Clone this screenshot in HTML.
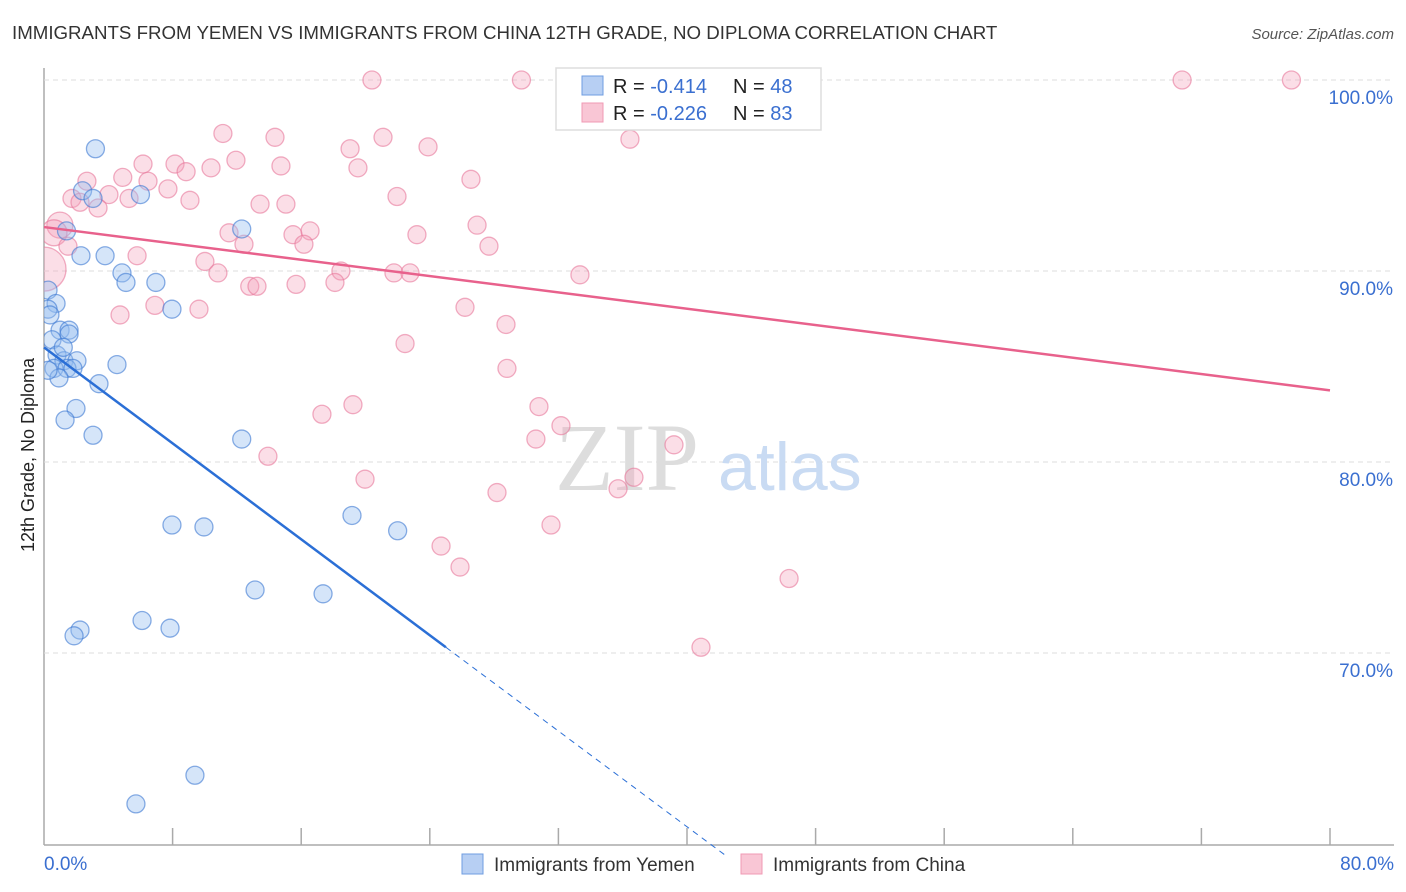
<!DOCTYPE html>
<html><head><meta charset="utf-8">
<style>
body{margin:0;background:#fff;font-family:"Liberation Sans",sans-serif;}
#wrap{position:relative;width:1406px;height:892px;overflow:hidden;}
</style></head>
<body>
<div id="wrap">
<svg id="svg" width="1406" height="892" xmlns="http://www.w3.org/2000/svg">
<defs><clipPath id="plotclip"><rect x="44" y="40" width="1362" height="805"/></clipPath></defs>
<text x="12" y="39" font-size="18.7" fill="#333">IMMIGRANTS FROM YEMEN VS IMMIGRANTS FROM CHINA 12TH GRADE, NO DIPLOMA CORRELATION CHART</text>
<text x="1394" y="39" font-size="15" fill="#555" text-anchor="end" font-style="italic">Source: ZipAtlas.com</text>
<text x="34" y="455" font-size="18" fill="#222" text-anchor="middle" transform="rotate(-90 34 455)">12th Grade, No Diploma</text>
<g id="grid"></g>
<text x="555" y="490" font-size="96" fill="#ddd" font-family="Liberation Serif,serif">ZIP</text>
<text x="718" y="490" font-size="68" fill="#c9dbf3">atlas</text>
<g id="pts" clip-path="url(#plotclip)"></g>
<g id="lines"></g>
<g>
<rect x="556" y="68" width="265" height="62" fill="#fff" stroke="#ddd" stroke-width="1.5"/>
<rect x="582" y="76" width="21" height="19" fill="#b7cff3" stroke="#6f9de0"/>
<text x="613" y="93" font-size="20" fill="#222">R = <tspan fill="#3a6fd0">-0.414</tspan></text>
<text x="733" y="93" font-size="20" fill="#222">N = <tspan fill="#3a6fd0">48</tspan></text>
<rect x="582" y="103" width="21" height="19" fill="#f9c6d5" stroke="#f09ab4"/>
<text x="613" y="120" font-size="20" fill="#222">R = <tspan fill="#3a6fd0">-0.226</tspan></text>
<text x="733" y="120" font-size="20" fill="#222">N = <tspan fill="#3a6fd0">83</tspan></text>
</g>
<g>
<rect x="462" y="854" width="21" height="20" fill="#b7cff3" stroke="#6f9de0"/>
<text x="494" y="871" font-size="19" fill="#333">Immigrants from Yemen</text>
<rect x="741" y="854" width="21" height="20" fill="#f9c6d5" stroke="#f09ab4"/>
<text x="773" y="871" font-size="19" fill="#333">Immigrants from China</text>
</g>
</svg>
</div>
<script>
const xTicks=[8,16,24,32,40,48,56,64,72,80];
const yTicks=[70,80,90,100];
const yTickLabels=["70.0%","80.0%","90.0%","100.0%"];
const yemenX=[3.2,2.4,6.0,3.05,1.4,12.3,2.3,3.8,4.85,5.1,6.96,0.25,0.75,0.25,0.37,7.96,1.0,1.56,1.56,0.5,0.81,1.24,2.05,0.62,1.43,1.8,0.93,4.54,3.42,1.99,1.31,3.05,12.3,19.16,22.0,7.96,9.95,13.13,17.36,6.1,7.84,2.24,1.87,9.39,5.72,34.34,0.25,1.2];
const yemenY=[96.4,94.2,94.0,93.8,92.1,92.2,90.8,90.8,89.9,89.4,89.4,89.0,88.3,88.0,87.7,88.0,86.9,86.9,86.7,86.4,85.6,85.3,85.3,84.9,84.9,84.9,84.4,85.1,84.1,82.8,82.2,81.4,81.2,77.2,76.4,76.7,76.6,73.3,73.1,71.7,71.3,71.2,70.9,63.6,62.1,99.5,84.8,86.0];
const chinaX=[20.4,29.7,32.97,70.8,77.6,11.13,14.37,21.09,23.89,36.45,19.04,6.16,8.15,10.39,11.94,14.74,19.53,8.84,4.9,6.47,2.67,7.71,26.56,4.04,5.29,1.74,2.24,3.36,9.08,13.44,15.05,21.96,0.99,0.62,0.0,11.51,12.44,15.49,16.55,16.17,23.2,26.94,27.68,1.49,5.79,10.01,10.82,18.47,21.77,22.77,33.34,12.8,13.25,15.68,18.1,6.9,9.64,26.19,4.73,28.74,22.46,28.8,17.29,19.22,30.79,30.6,32.16,39.19,13.93,19.97,28.18,35.71,36.7,31.54,24.7,25.88,46.35,40.87];
const chinaY=[100,100,100,100,100,97.2,97.0,97.0,96.5,96.9,96.4,95.6,95.6,95.4,95.8,95.5,95.4,95.2,94.9,94.7,94.7,94.3,94.8,94.0,93.8,93.8,93.6,93.3,93.7,93.5,93.5,93.9,92.4,92.0,90.1,92.0,91.4,91.9,92.1,91.4,91.9,92.4,91.3,91.3,90.8,90.5,89.9,90.0,89.9,89.9,89.8,89.2,89.2,89.3,89.4,88.2,88.0,88.1,87.7,87.2,86.2,84.9,82.5,83.0,82.9,81.2,81.9,80.9,80.3,79.1,78.4,78.6,79.2,76.7,75.6,74.5,73.9,70.3];
const chinaR=[9,9,9,9,9,9,9,9,9,9,9,9,9,9,9,9,9,9,9,9,9,9,9,9,9,9,9,9,9,9,9,9,13,13,22,9,9,9,9,9,9,9,9,9,9,9,9,9,9,9,9,9,9,9,9,9,9,9,9,9,9,9,9,9,9,9,9,9,9,9,9,9,9,9,9,9,9,9];
const yemenTrend=[0,86.0,25,70.3,42.4,59.4];
const chinaTrend=[0,92.3,80,83.75];
const X=v=>44+v*(1286/80);
const Y=v=>80+(100-v)*19.1;
const NS="http://www.w3.org/2000/svg";
function mk(tag,attrs,parent){const e=document.createElementNS(NS,tag);for(const k in attrs)e.setAttribute(k,attrs[k]);parent.appendChild(e);return e;}
const grid=document.getElementById('grid');
let ax=mk('line',{x1:44,y1:68,x2:44,y2:845,stroke:'#aaa','stroke-width':1.5},grid);


let bx=mk('line',{x1:44,y1:845,x2:1394,y2:845,stroke:'#aaa','stroke-width':1.5},grid);


xTicks.forEach(t=>{const l=mk('line',{x1:X(t),y1:828,x2:X(t),y2:845,stroke:'#aaa','stroke-width':1.5},grid);

});
yTicks.forEach((t,i)=>{const l=mk('line',{x1:44,y1:Y(t),x2:1394,y2:Y(t),stroke:'#ddd','stroke-dasharray':'5,4'},grid);


const tx=mk('text',{x:1393,y:Y(t)+24,'font-size':19,fill:'#3a6fd0','text-anchor':'end'},grid);tx.textContent=yTickLabels[i];

});
const x0=mk('text',{x:44,y:870,'font-size':19,fill:'#3a6fd0'},grid);x0.textContent="0.0%";


const x1=mk('text',{x:1394,y:870,'font-size':19,fill:'#3a6fd0','text-anchor':'end'},grid);x1.textContent="80.0%";


const pts=document.getElementById('pts');
chinaX.forEach((v,i)=>{const c=mk('circle',{cx:X(v),cy:Y(chinaY[i]),r:chinaR[i],fill:'rgba(244,160,185,0.35)',stroke:'rgba(232,120,155,0.6)','stroke-width':1.3},pts);

});
yemenX.forEach((v,i)=>{const c=mk('circle',{cx:X(v),cy:Y(yemenY[i]),r:9,fill:'rgba(150,190,240,0.4)',stroke:'rgba(60,120,210,0.6)','stroke-width':1.3},pts);

});
const lines=document.getElementById('lines');
const cl=mk('line',{x1:X(chinaTrend[0]),y1:Y(chinaTrend[1]),x2:X(chinaTrend[2]),y2:Y(chinaTrend[3]),stroke:'#e8618c','stroke-width':2.5},lines);


const yl=mk('line',{x1:X(yemenTrend[0]),y1:Y(yemenTrend[1]),x2:X(yemenTrend[2]),y2:Y(yemenTrend[3]),stroke:'#2b6fd6','stroke-width':2.5},lines);


const yd=mk('line',{x1:X(yemenTrend[2]),y1:Y(yemenTrend[3]),x2:X(yemenTrend[4]),y2:Y(yemenTrend[5]),stroke:'#2b6fd6','stroke-width':1,'stroke-dasharray':'6,5'},lines);


</script>
</body></html>
